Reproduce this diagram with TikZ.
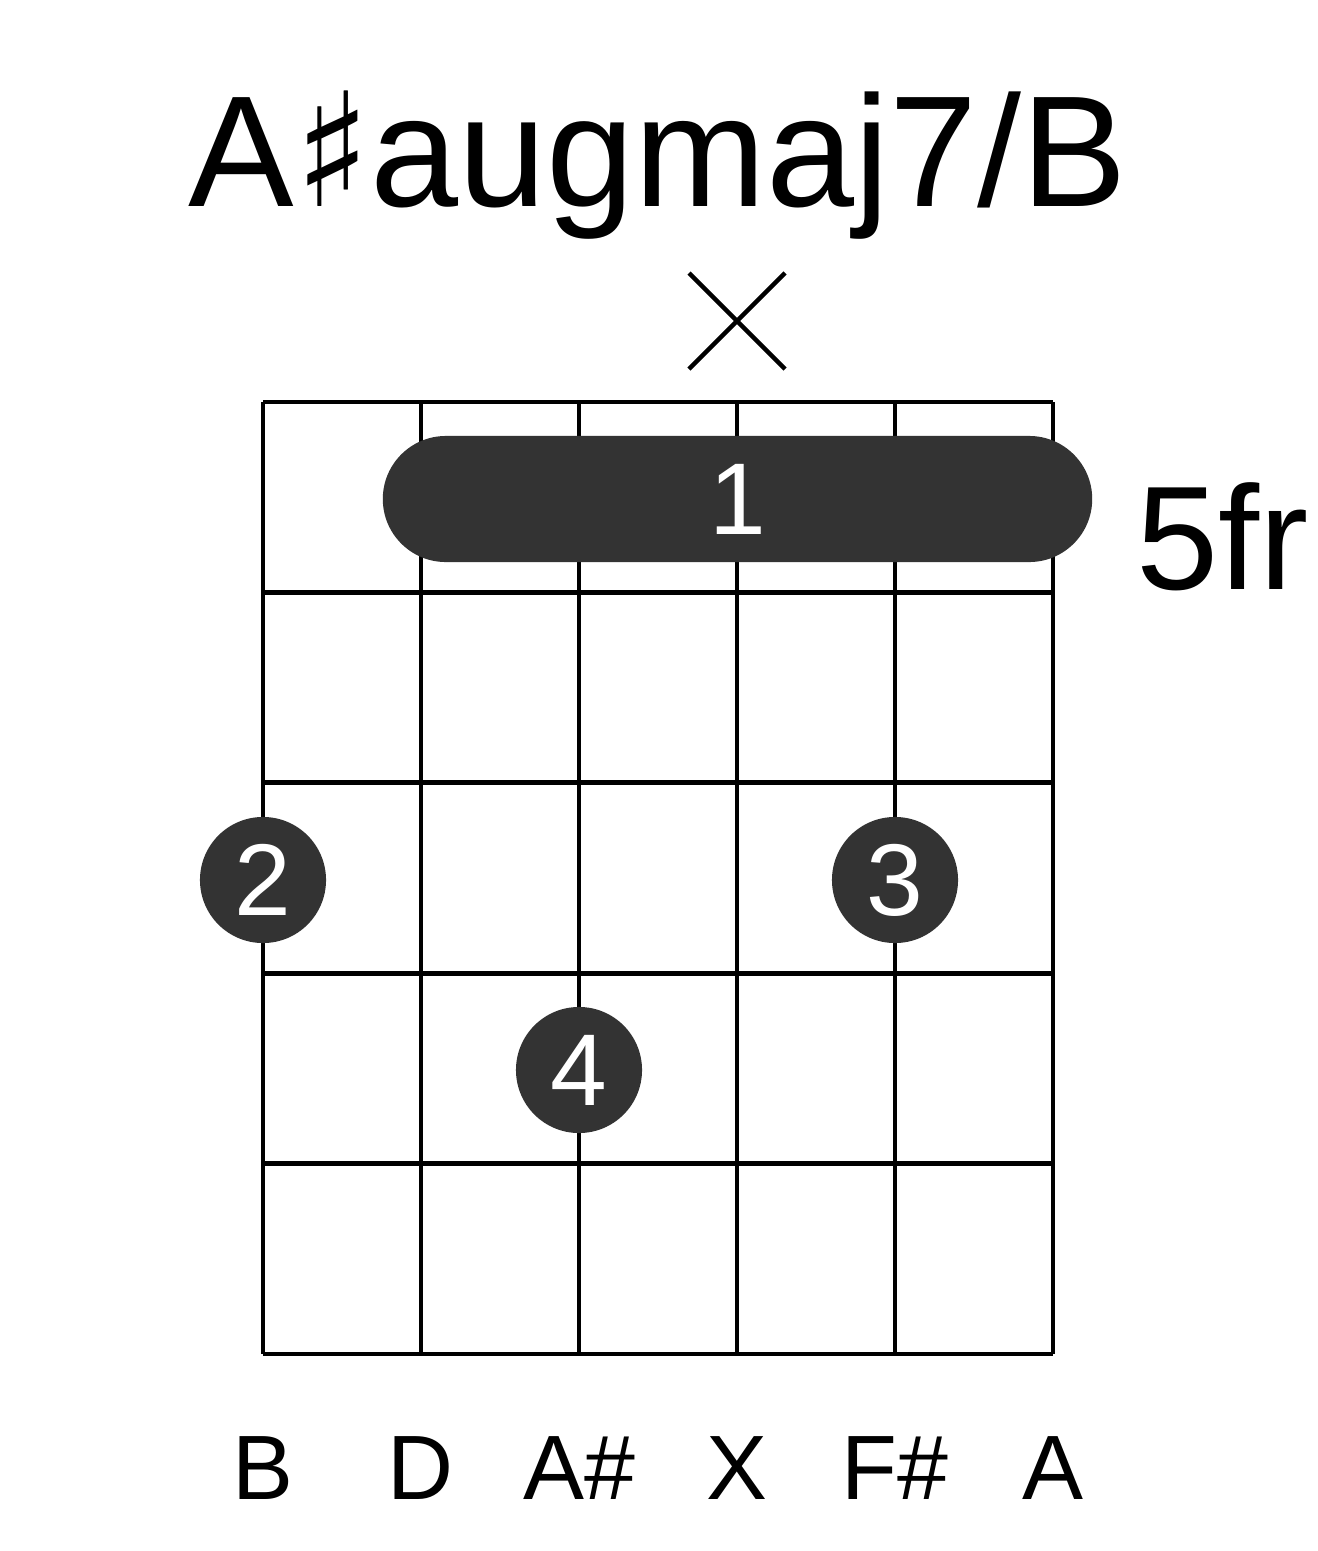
\documentclass[tikz,border=0pt]{standalone}
\usepackage{fontspec}
\setmainfont{Liberation Sans}
\newfontfamily\symfont{DejaVu Sans}
\usetikzlibrary{positioning}
\definecolor{dotgray}{RGB}{51,51,51}
\tikzset{
  gridline/.style={line width=1.4pt, black},
  finger/.style={circle, fill=dotgray, minimum size=1.26cm, inner sep=0pt, text=white, font=\fontsize{29}{30}\selectfont},
  strlabel/.style={font=\fontsize{26}{28}\selectfont},
}
\begin{document}
\begin{tikzpicture}[x=0.01cm, y=-0.01cm]
\useasboundingbox (0,0) rectangle (1317,1551);
% --- grid ---
\foreach \i in {0,...,5} {
  \draw[gridline] (263+158*\i,402) -- (263+158*\i,1354);
  \draw[gridline] (263,402+190.4*\i) -- (1053,402+190.4*\i);
}
% --- title and fret number ---
\node (title) at (658,165) {\fontsize{45}{48}\selectfont A{\symfont\char"266F}augmaj7/B};
\node[anchor=west] (fret) at (1124,537) {\fontsize{42}{46}\selectfont 5fr};
% --- muted string ---
\draw[line width=1.3pt] (689,273) -- (785,369) (689,369) -- (785,273);
% --- barre ---
\node[rectangle, rounded corners=0.63cm, fill=dotgray, minimum width=7.09cm, minimum height=1.26cm,
      text=white, font=\fontsize{29}{30}\selectfont] (barre) at (737.5,499) {1};
% --- fingers ---
\node[finger] (f2) at (263,880) {2};
\node[finger] (f3) at (895,880) {3};
\node[finger] (f4) at (579,1070) {4};
% --- string names ---
\foreach \n [count=\k from 0] in {B,D,A\#,X,F\#,A}
  \node[strlabel] (s\k) at (263+158*\k,1468) {\n};
\end{tikzpicture}
\end{document}
